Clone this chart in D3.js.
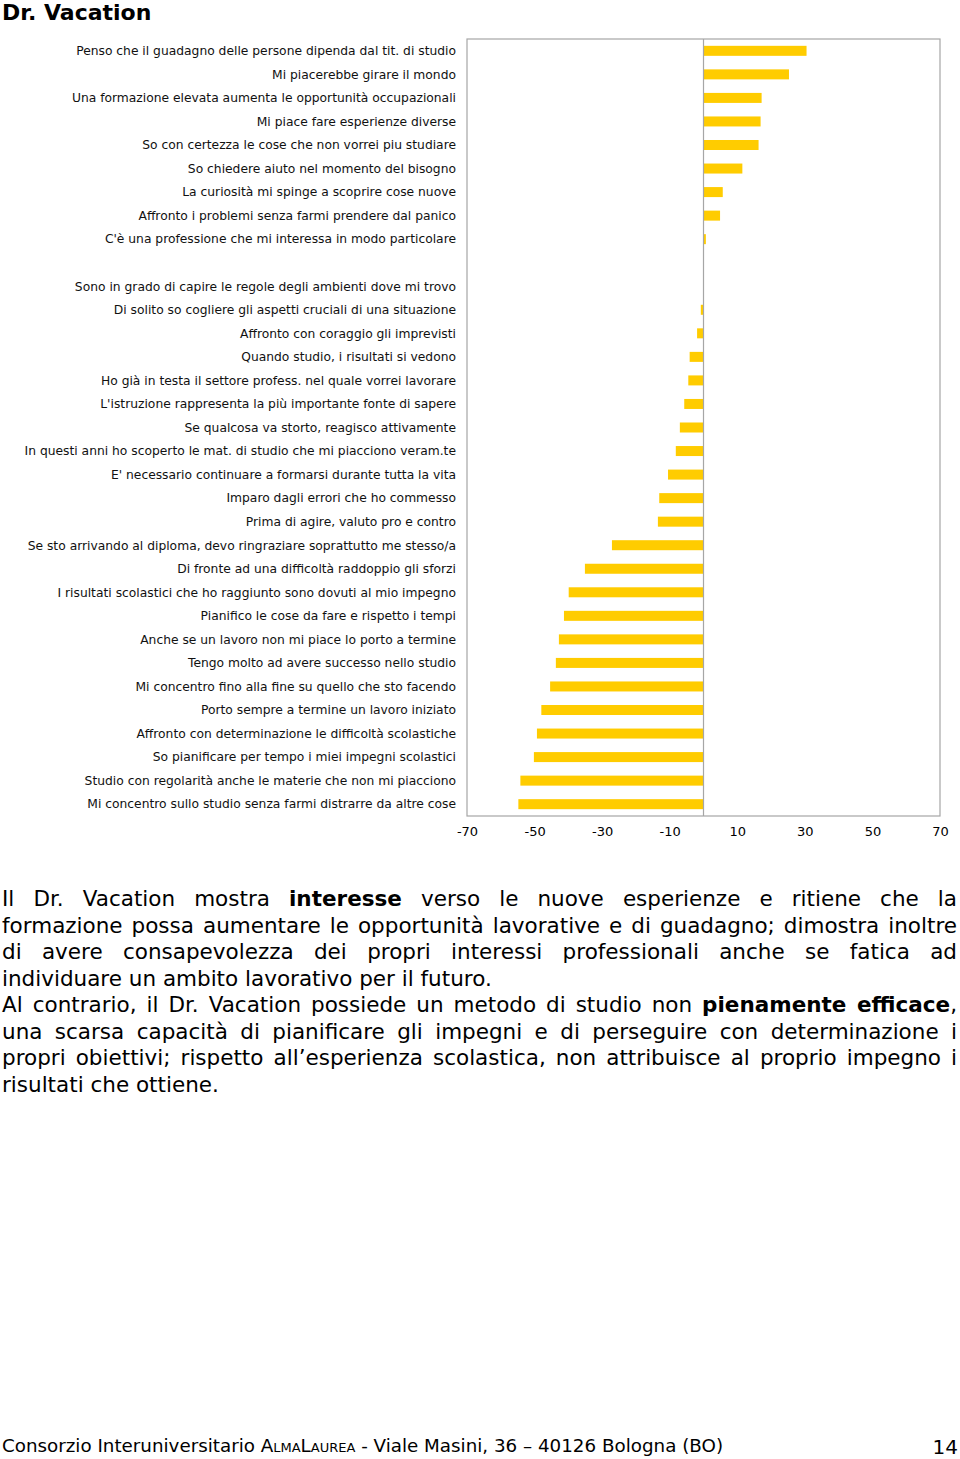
<!DOCTYPE html>
<html>
<head>
<meta charset="utf-8">
<script src="https://cdn.jsdelivr.net/npm/d3@7"></script>
<style>
  body { margin:0; width:960px; height:1459px; position:relative; background:#fff; font-family:"DejaVu Sans", Verdana, sans-serif; color:#000; overflow:hidden; }
  #chart-area { position:absolute; left:0; top:0; }
  .para { position:absolute; left:2px; width:955px; font-size:21.5px; line-height:26.5px; }
  .line { white-space:nowrap; height:26.5px; }
  .just { text-align:justify; text-align-last:justify; }
  #footer { position:absolute; left:2px; top:1435px; font-size:18.3px; }
  #page { position:absolute; right:2px; top:1435px; font-size:20px; }
</style>
</head>
<body>
<div id="chart-area"></div>
<div id="text1" class="para" style="top:886px"></div>
<div id="text2" class="para" style="top:992px"></div>
<div id="footer">Consorzio Interuniversitario <span style="font-variant:small-caps">AlmaLaurea</span> - Viale Masini, 36 – 40126 Bologna (BO)</div>
<div id="page">14</div>
<script>
// categories (top to bottom) and values
const categories = [
  "Penso che il guadagno delle persone dipenda dal tit. di studio",
  "Mi piacerebbe girare il mondo",
  "Una formazione elevata aumenta le opportunità occupazionali",
  "Mi piace fare esperienze diverse",
  "So con certezza le cose che non vorrei piu studiare",
  "So chiedere aiuto nel momento del bisogno",
  "La curiosità mi spinge a scoprire cose nuove",
  "Affronto i problemi senza farmi prendere dal panico",
  "C'è una professione che mi interessa in modo particolare",
  "",
  "Sono in grado di capire le regole degli ambienti dove mi trovo",
  "Di solito so cogliere gli aspetti cruciali di una situazione",
  "Affronto con coraggio gli imprevisti",
  "Quando studio, i risultati si vedono",
  "Ho già in testa il settore profess. nel quale vorrei lavorare",
  "L'istruzione rappresenta la più importante fonte di sapere",
  "Se qualcosa va storto, reagisco attivamente",
  "In questi anni ho scoperto le mat. di studio che mi piacciono veram.te",
  "E' necessario continuare a formarsi durante tutta la vita",
  "Imparo dagli errori che ho commesso",
  "Prima di agire, valuto pro e contro",
  "Se sto arrivando al diploma, devo ringraziare soprattutto me stesso/a",
  "Di fronte ad una difficoltà raddoppio gli sforzi",
  "I risultati scolastici che ho raggiunto sono dovuti al mio impegno",
  "Pianifico le cose da fare e rispetto i tempi",
  "Anche se un lavoro non mi piace lo porto a termine",
  "Tengo molto ad avere successo nello studio",
  "Mi concentro fino alla fine su quello che sto facendo",
  "Porto sempre a termine un lavoro iniziato",
  "Affronto con determinazione le difficoltà scolastiche",
  "So pianificare per tempo i miei impegni scolastici",
  "Studio con regolarità anche le materie che non mi piacciono",
  "Mi concentro sullo studio senza farmi distrarre da altre cose"
]
const values = [30.5, 25.3, 17.2, 16.9, 16.3, 11.5, 5.7, 4.9, 0.7,
  0, 0,
  -0.8, -1.9, -4.1, -4.5, -5.7, -7.0, -8.2, -10.5, -13.1, -13.5,
  -27.1, -35.1, -39.9, -41.3, -42.8, -43.7, -45.4, -48.0, -49.3, -50.2, -54.2, -54.8]
const tickLabels = [-70, -50, -30, -10, 10, 30, 50, 70]

const para1 = [
  'Il Dr. Vacation mostra <b>interesse</b> verso le nuove esperienze e ritiene che la',
  'formazione possa aumentare le opportunità lavorative e di guadagno; dimostra inoltre',
  'di avere consapevolezza dei propri interessi professionali anche se fatica ad',
  'individuare un ambito lavorativo per il futuro.'
]
const para2 = [
  'Al contrario, il Dr. Vacation possiede un metodo di studio non <b>pienamente efficace</b>,',
  'una scarsa capacità di pianificare gli impegni e di perseguire con determinazione i',
  'propri obiettivi; rispetto all’esperienza scolastica, non attribuisce al proprio impegno i',
  'risultati che ottiene.'
]

const W = 960, H = 860
const PLOT = {LEFT:467, RIGHT:940, TOP:39, BOTTOM:816}

const svg = d3.select('#chart-area')
.append('svg')
.attr('width', W)
.attr('height', H)

svg.append('text')
.attr('x', 2)
.attr('y', 20)
.attr('font-size', '22px')
.attr('font-weight', 'bold')
.text('Dr. Vacation')

const x = d3.scaleLinear()
.domain([-70, 70])
.range([PLOT.LEFT, PLOT.RIGHT])

const y = d3.scaleBand()
.domain(d3.range(categories.length))
.range([PLOT.TOP, PLOT.BOTTOM])
.paddingInner(0.575)
.paddingOuter(0.29)

// frame
svg.append('rect')
.attr('x', PLOT.LEFT)
.attr('y', PLOT.TOP)
.attr('width', PLOT.RIGHT - PLOT.LEFT)
.attr('height', PLOT.BOTTOM - PLOT.TOP)
.attr('fill', 'none')
.attr('stroke', '#a6a6a6')
.attr('stroke-width', 1.2)

svg.selectAll('rect.bar')
.data(values)
.enter().append('rect')
.attr('class', 'bar')
.attr('x', d => x(Math.min(0, d)))
.attr('y', (d, i) => y(i))
.attr('width', d => Math.abs(x(d) - x(0)))
.attr('height', y.bandwidth())
.attr('fill', '#ffcc00')

// zero line
svg.append('line')
.attr('x1', x(0)).attr('x2', x(0))
.attr('y1', PLOT.TOP).attr('y2', PLOT.BOTTOM)
.attr('stroke', '#a6a6a6')
.attr('stroke-width', 1.2)

// category labels
svg.selectAll('text.cat')
.data(categories)
.enter().append('text')
.attr('class', 'cat')
.attr('x', 456)
.attr('y', (d, i) => y(i) + y.bandwidth() / 2)
.attr('dy', '0.35em')
.attr('text-anchor', 'end')
.attr('font-size', '12.3px')
.attr('fill', '#111')
.text(d => d)

const xAxisCall = d3.axisBottom(x)
.tickValues(tickLabels)
.tickFormat(d => String(d))
.tickSize(0)
.tickPadding(11)
const xAxis = svg.append('g')
.attr('class', 'x axis')
.attr('transform', `translate(0,${PLOT.BOTTOM})`)
.call(xAxisCall)
xAxis.select('.domain').remove()
xAxis.selectAll('text')
.attr('font-family', '"DejaVu Sans", Verdana, sans-serif')
.attr('font-size', '13px')
.attr('fill', '#000')

// text blocks
function fillPara(sel, lines) {
  d3.select(sel).selectAll('div')
  .data(lines)
  .enter().append('div')
  .attr('class', (d, i) => i < lines.length - 1 ? 'line just' : 'line')
  .html(d => d)
}
fillPara('#text1', para1)
fillPara('#text2', para2)
</script>
</body>
</html>
